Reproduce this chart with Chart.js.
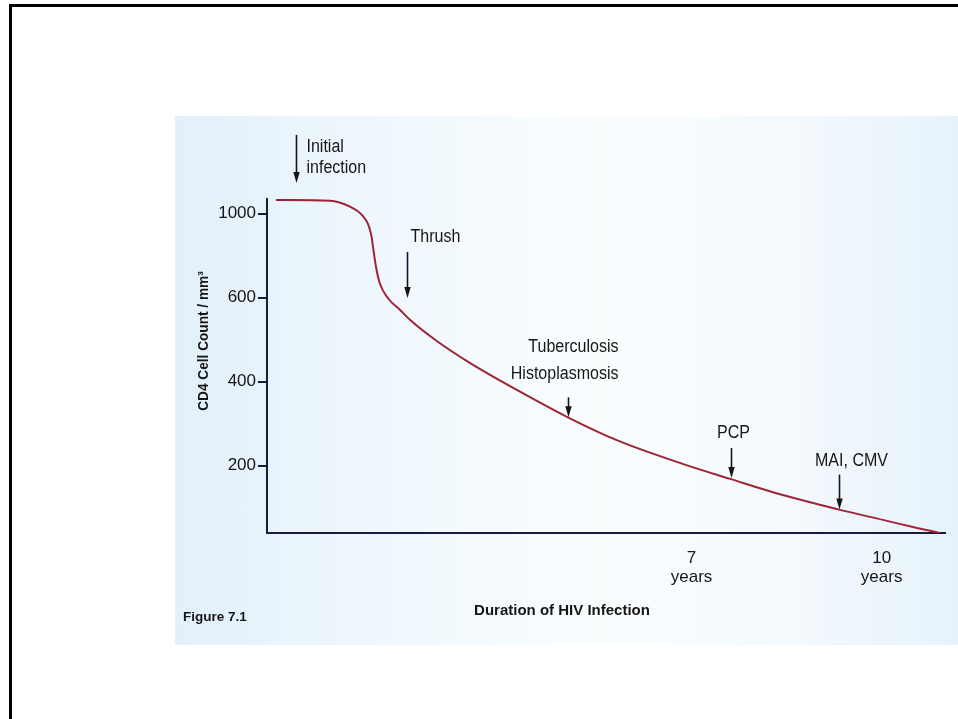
<!DOCTYPE html>
<html><head><meta charset="utf-8">
<script src="https://cdn.jsdelivr.net/npm/chart.js@4/dist/chart.umd.min.js"></script>
<style>
html,body{margin:0;padding:0;background:#fff;}
#wrap{position:relative;width:958px;height:719px;overflow:hidden;background:#fff;}
#frame{position:absolute;left:9px;top:4px;width:1000px;height:800px;border-left:3px solid #000;border-top:3px solid #000;}
#fig{position:absolute;left:175px;top:116px;width:783px;height:529px;
 background:linear-gradient(90deg,#e2f0fa 0%,#f0f8fd 28%,#fafdfe 55%,#f3f9fd 80%,#e6f2fb 100%);}
canvas{position:absolute;left:0;top:0;}
</style></head><body>
<div id="wrap"><div id="frame"></div><div id="fig"></div><canvas id="c" width="958" height="719"></canvas></div>
<script>
// ---- data (years since infection, CD4 cells / mm³) ----
const years = [0.44, 1.29, 1.61, 1.80, 1.90, 1.95, 1.98, 2.02, 2.08, 2.21, 2.40, 2.56, 2.98, 3.50, 4.25, 5.04, 5.82, 6.87, 7.61, 8.44, 9.30, 10.02, 10.56, 10.92];
const cd4   = [1066, 1062, 1034, 994, 947, 891, 828, 748, 669, 599, 571, 547, 497, 445, 380, 316, 261, 204, 161, 113, 71, 39, 15, 0];
const yTickValues = [200, 400, 600, 1000];
const yTickLabels = ['200', '400', '600', '1000'];
const xTickValues = [7, 10];
const xTickLabels = [['7', 'years'], ['10', 'years']];
const eventYears  = [0.76, 2.51, 5.05, 7.62, 9.33];
const eventLabels = [['Initial', 'infection'], ['Thrush'], ['Tuberculosis', 'Histoplasmosis'], ['PCP'], ['MAI, CMV']];
const yTitle = 'CD4 Cell Count / mm³';
const xTitle = 'Duration of HIV Infection';
const figureLabel = 'Figure 7.1';

// the original figure's y axis is not linear: 1000 sits one step above 600
function toPos(v){
  if (v <= 200) return v / 200 * 0.8;
  if (v <= 600) return 0.8 + (v - 200) / 200;
  return 2.8 + (v - 600) / 400;
}
function valueAt(yr){
  for (let i = 0; i < years.length - 1; i++){
    if (yr >= years[i] && yr <= years[i+1]){
      const t = (yr - years[i]) / (years[i+1] - years[i]);
      return cd4[i] + t * (cd4[i+1] - cd4[i]);
    }
  }
  return yr < years[0] ? cd4[0] : cd4[cd4.length-1];
}

const FONT = "'Liberation Sans', Arial, Helvetica, sans-serif";
const INK = '#161616';
const AXIS = '#1b1c3c';
Chart.defaults.font.family = FONT;

const eventStyle = [
  {len:48, gap:17, tx:10, align:'left',   ty:[12, 33]},
  {len:46, gap:19, tx:3,  align:'left',   ty:[-15]},
  {len:20, gap:0,  tx:50, align:'right',  ty:[-50, -23]},
  {len:30, gap:1,  tx:2,  align:'center', ty:[-15]},
  {len:35, gap:0,  tx:12, align:'center', ty:[-14]}
];

function condensedText(ctx, t, x, y, font, align, sx){
  ctx.save();
  ctx.translate(x, y);
  ctx.scale(sx, 1);
  ctx.font = font; ctx.textAlign = align; ctx.textBaseline = 'middle';
  ctx.fillText(t, 0, 0);
  ctx.restore();
}

const annot = {
  id: 'annot',
  afterDatasetsDraw(chart){
    const ctx = chart.ctx, xs = chart.scales.x, ys = chart.scales.y;
    ctx.save();
    eventYears.forEach((yr, i) => {
      const s = eventStyle[i];
      const x = Math.round(xs.getPixelForValue(yr)) + 0.5;
      const yCurve = (i === 0) ? ys.getPixelForValue(toPos(cd4[0])) : ys.getPixelForValue(toPos(valueAt(yr)));
      const tip = yCurve - s.gap;
      const top = tip - s.len;
      ctx.strokeStyle = INK; ctx.fillStyle = INK; ctx.lineWidth = 1.6;
      ctx.beginPath(); ctx.moveTo(x, top); ctx.lineTo(x, tip - 9); ctx.stroke();
      ctx.beginPath(); ctx.moveTo(x - 3.2, tip - 11); ctx.lineTo(x + 3.2, tip - 11); ctx.lineTo(x, tip); ctx.closePath(); ctx.fill();
      eventLabels[i].forEach((t, j) => condensedText(ctx, t, x + s.tx, top + s.ty[j], '18px ' + FONT, s.align, 0.89));
    });
    // axis titles and figure caption
    ctx.fillStyle = INK;
    condensedText(ctx, xTitle, 562, 611, 'bold 15px ' + FONT, 'center', 1.0);
    condensedText(ctx, figureLabel, 183, 617, 'bold 13.5px ' + FONT, 'left', 1.0);
    ctx.save();
    ctx.translate(204, 341); ctx.rotate(-Math.PI / 2);
    condensedText(ctx, yTitle, 0, 0, 'bold 15px ' + FONT, 'center', 0.91);
    ctx.restore();
    ctx.restore();
  }
};

new Chart(document.getElementById('c'), {
  type: 'line',
  data: {
    datasets: [{
      data: years.map((yr, i) => ({x: yr, y: toPos(cd4[i])})),
      borderColor: '#9e2436',
      borderWidth: 2,
      pointRadius: 0,
      fill: false,
      cubicInterpolationMode: 'monotone'
    }]
  },
  options: {
    responsive: false, animation: false, devicePixelRatio: 1,
    layout: {padding: {left: 0, top: 199, right: 13, bottom: 0}},
    plugins: {legend: {display: false}, tooltip: {enabled: false}},
    scales: {
      x: {
        type: 'linear', min: 0.3, max: 11.0,
        afterBuildTicks: s => { s.ticks = xTickValues.map(v => ({value: v})); },
        afterFit: s => { s.height = 186; },
        ticks: {autoSkip: false, maxRotation: 0, padding: 8, color: INK, font: {size: 17, lineHeight: 1.12},
                callback: (v, i) => xTickLabels[i]},
        grid: {display: false},
        border: {display: true, color: AXIS, width: 2}
      },
      y: {
        type: 'linear', min: 0, max: 3.976,
        afterBuildTicks: s => { s.ticks = yTickValues.map(v => ({value: toPos(v)})); },
        afterFit: s => { s.width = 267; },
        ticks: {autoSkip: false, padding: 2, color: INK, font: {size: 17},
                callback: (v, i) => yTickLabels[i]},
        grid: {display: true, drawOnChartArea: false, drawTicks: true, tickLength: 9, color: AXIS, lineWidth: 2},
        border: {display: true, color: AXIS, width: 2}
      }
    }
  },
  plugins: [annot]
});
</script>
</body></html>
